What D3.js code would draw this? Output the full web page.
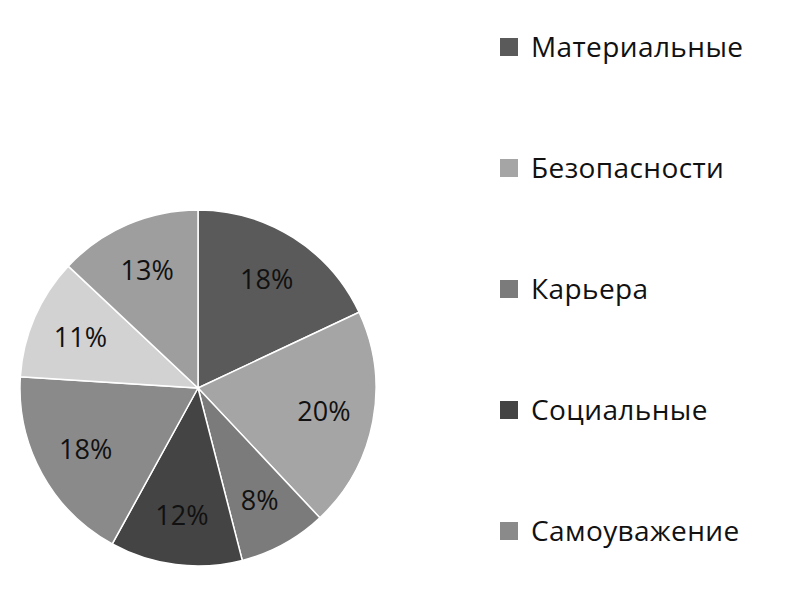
<!DOCTYPE html>
<html>
<head>
<meta charset="utf-8">
<script src="https://cdn.jsdelivr.net/npm/d3@7"></script>
<style>
  body { margin: 0; background: #fff; }
  text { font-family: "Open Sans", "Noto Sans", sans-serif; }
</style>
</head>
<body>
<div id="chart"></div>
<script>
// legend shows only the first five categories
const categories = ["Материальные", "Безопасности", "Карьера", "Социальные", "Самоуважение"];
const values = [18, 20, 8, 12, 18, 11, 13];
const colors = ["#5a5a5a", "#a5a5a5", "#7b7b7b", "#444444", "#8a8a8a", "#d2d2d2", "#9e9e9e"];

const svgWidth = 790;
const svgHeight = 602;
const radius = 178;

const svg = d3.select("#chart")
  .append("svg")
  .attr("width", svgWidth)
  .attr("height", svgHeight);

const pieGroup = svg.append("g")
  .attr("transform", "translate(198, 388)");

const pie = d3.pie().sort(null)(values);
const arc = d3.arc().innerRadius(0).outerRadius(radius);
const labelArc = d3.arc().innerRadius(radius * 0.72).outerRadius(radius * 0.72);

pieGroup.selectAll("path")
  .data(pie)
  .enter()
  .append("path")
  .attr("d", arc)
  .attr("fill", (d, i) => colors[i])
  .attr("stroke", "#fff")
  .attr("stroke-width", 1.5);

pieGroup.selectAll("text")
  .data(pie)
  .enter()
  .append("text")
  .attr("transform", d => `translate(${labelArc.centroid(d)})`)
  .attr("text-anchor", "middle")
  .attr("dy", "0.35em")
  .attr("font-size", "27px")
  .attr("fill", "#111")
  .text(d => d.data + "%");

// legend
const legend = svg.append("g");
const rows = legend.selectAll("g")
  .data(categories)
  .enter()
  .append("g")
  .attr("transform", (d, i) => `translate(500, ${47 + i * 121})`);

rows.append("rect")
  .attr("x", 0)
  .attr("y", -9)
  .attr("width", 18)
  .attr("height", 18)
  .attr("fill", (d, i) => colors[i]);

rows.append("text")
  .attr("x", 31)
  .attr("dy", "0.35em")
  .attr("font-size", "28px")
  .attr("letter-spacing", "0.4px")
  .attr("fill", "#111")
  .text(d => d);
</script>
</body>
</html>
